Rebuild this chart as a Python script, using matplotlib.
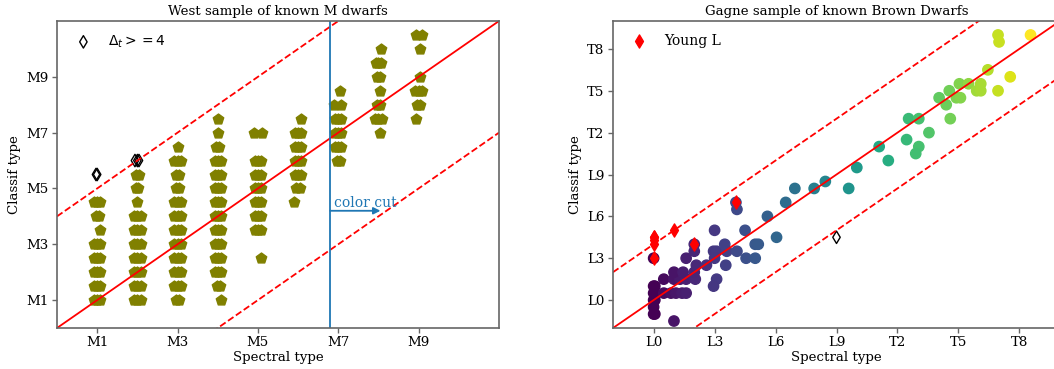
import matplotlib
matplotlib.use("Agg")
import matplotlib.pyplot as plt
import numpy as np

plt.rcParams["font.family"] = "DejaVu Serif"
plt.rcParams["font.size"] = 9.6

# ---------------- WEST SAMPLE (M dwarfs) ----------------
west_spt = [
    # M1
    0.92, 1.0, 1.08, 0.92, 1.0, 1.08, 0.92, 1.0, 1.08, 0.92, 1.0, 1.08, 0.92, 1.0, 1.08,
    1.07, 0.96, 1.04, 0.92, 1.0, 1.08,
    # M2
    1.92, 2.0, 2.08, 1.92, 2.0, 2.08, 1.92, 2.0, 2.08, 1.92, 2.0, 2.08, 1.92, 2.0, 2.08,
    1.92, 2.0, 2.08, 1.92, 2.0, 2.08, 2.0, 1.97, 2.01, 1.96, 2.04,
    # M3
    2.96, 3.04, 2.92, 3.0, 3.08, 2.92, 3.0, 3.08, 2.92, 3.0, 3.08, 2.92, 3.0, 3.08,
    2.92, 3.0, 3.08, 2.92, 3.0, 3.08, 2.92, 3.0, 3.08, 2.96, 3.04, 2.96, 3.04,
    2.92, 3.0, 3.08, 3.0,
    # M4
    4.08, 3.98, 4.06, 3.92, 4.0, 4.08, 3.92, 4.0, 4.08, 3.92, 4.0, 4.08, 3.92, 4.0, 4.08,
    3.92, 4.0, 4.08, 3.92, 4.0, 4.08, 3.92, 4.0, 4.08, 3.92, 4.0, 4.08, 3.92, 4.0, 4.08,
    3.96, 4.04, 4.0, 4.0,
    # M5
    5.07, 4.93, 5.0, 5.07, 4.92, 5.0, 5.08, 4.92, 5.0, 5.08, 4.92, 5.0, 5.08,
    4.92, 5.0, 5.08, 4.92, 5.0, 5.08, 4.9, 5.1,
    # M6
    5.9, 5.96, 6.04, 5.92, 6.0, 6.08, 5.92, 6.0, 6.08, 5.92, 6.0, 6.08, 5.92, 6.0, 6.08,
    6.07,
    # M7
    6.96, 7.04, 6.92, 7.0, 7.08, 6.92, 7.0, 7.08, 6.92, 7.0, 7.08, 6.9, 7.08, 7.04,
    # M8
    8.05, 7.92, 8.0, 8.08, 7.96, 8.04, 8.05, 7.96, 8.04, 7.93, 8.0, 8.07, 8.07,
    # M9
    8.94, 8.96, 9.04, 8.92, 9.0, 9.08, 9.03, 9.03, 8.93, 9.08,
]
west_cls = [
    # M1
    1.0, 1.0, 1.0, 1.5, 1.5, 1.5, 2.0, 2.0, 2.0, 2.5, 2.5, 2.5, 3.0, 3.0, 3.0,
    3.5, 4.0, 4.0, 4.5, 4.5, 4.5,
    # M2
    1.0, 1.0, 1.0, 1.5, 1.5, 1.5, 2.0, 2.0, 2.0, 2.5, 2.5, 2.5, 3.0, 3.0, 3.0,
    3.5, 3.5, 3.5, 4.0, 4.0, 4.0, 4.5, 5.0, 5.0, 5.5, 5.5,
    # M3
    1.0, 1.0, 1.5, 1.5, 1.5, 2.0, 2.0, 2.0, 2.5, 2.5, 2.5, 3.0, 3.0, 3.0,
    3.5, 3.5, 3.5, 4.0, 4.0, 4.0, 4.5, 4.5, 4.5, 5.0, 5.0, 5.5, 5.5,
    6.0, 6.0, 6.0, 6.5,
    # M4
    1.0, 1.5, 1.5, 2.0, 2.0, 2.0, 2.5, 2.5, 2.5, 3.0, 3.0, 3.0, 3.5, 3.5, 3.5,
    4.0, 4.0, 4.0, 4.5, 4.5, 4.5, 5.0, 5.0, 5.0, 5.5, 5.5, 5.5, 6.0, 6.0, 6.0,
    6.5, 6.5, 7.0, 7.5,
    # M5
    2.5, 3.5, 3.5, 3.5, 4.0, 4.0, 4.0, 4.5, 4.5, 4.5, 5.0, 5.0, 5.0,
    5.5, 5.5, 5.5, 6.0, 6.0, 6.0, 7.0, 7.0,
    # M6
    4.5, 5.0, 5.0, 5.5, 5.5, 5.5, 6.0, 6.0, 6.0, 6.5, 6.5, 6.5, 7.0, 7.0, 7.0,
    7.5,
    # M7
    6.0, 6.0, 6.5, 6.5, 6.5, 7.0, 7.0, 7.0, 7.5, 7.5, 7.5, 8.0, 8.0, 8.5,
    # M8
    7.0, 7.5, 7.5, 7.5, 8.0, 8.0, 8.5, 9.0, 9.0, 9.5, 9.5, 9.5, 10.0,
    # M9
    7.5, 8.0, 8.0, 8.5, 8.5, 8.5, 9.0, 10.0, 10.5, 10.5,
]
# large-delta outliers
west_out_spt = [0.97, 1.0, 1.94, 2.0, 2.04]
west_out_cls = [5.5, 5.5, 6.0, 6.0, 6.0]

m_ticks = [1, 3, 5, 7, 9]
m_labels = ["M1", "M3", "M5", "M7", "M9"]
color_cut = 6.8

# ---------------- GAGNE SAMPLE (brown dwarfs) ----------------
gagne_spt = [
    0.0, 0.06, 0.0, 0.06, 0.0, 0.06, 0.0, 0.0, 0.06, 0.0,
    0.5, 0.85, 1.1, 1.4, 1.6,
    0.5, 1.0, 1.3, 1.6, 2.05,
    1.0, 1.45, 2.0, 2.1, 2.6, 1.6, 2.0, 2.0, 1.0,
    3.0, 2.95, 3.1, 3.0, 3.1, 2.95, 3.5, 3.6, 3.55, 4.1, 4.1, 4.05,
    4.5, 4.55, 5.0, 5.0, 5.15, 5.6, 6.05, 6.5, 6.95, 7.9, 8.45, 9.6, 10.0,
    11.1, 11.55, 12.45, 12.55, 13.05, 13.05, 12.9, 13.55, 14.6, 14.05, 14.4,
    14.55, 14.9, 15.1, 15.05, 15.5, 15.9, 16.1, 16.1, 16.45, 16.95, 16.95,
    17.0, 17.55, 18.55,
]
gagne_cls = [
    1.0, 1.0, 0.5, 0.5, 0.0, 0.0, -0.5, -1.0, -1.0, 3.0,
    0.5, 0.5, 0.5, 0.5, 0.5,
    1.5, 1.5, 1.5, 1.5, 1.5,
    2.0, 2.0, 2.0, 2.5, 2.5, 3.0, 3.5, 4.0, -1.5,
    5.0, 3.5, 3.5, 3.0, 1.5, 1.0, 4.0, 3.5, 2.5, 3.5, 6.5, 7.0,
    5.0, 3.0, 3.0, 4.0, 4.0, 6.0, 4.5, 7.0, 8.0, 8.0, 8.5, 8.0, 9.5,
    11.0, 10.0, 11.5, 13.0, 13.0, 11.0, 10.5, 12.0, 13.0, 14.5, 14.0,
    15.0, 14.5, 14.5, 15.5, 15.5, 15.0, 15.0, 15.5, 16.5, 15.0, 19.0,
    18.5, 16.0, 19.0,
]
young_spt = [0.0, 0.03, 0.0, 0.0, 0.0, 1.0, 2.0, 4.05]
young_cls = [4.5, 4.5, 4.3, 4.0, 3.0, 5.0, 4.0, 7.0]
gagne_out_spt = [9.0]
gagne_out_cls = [4.5]

lt_ticks = [0, 3, 6, 9, 12, 15, 18]
lt_labels = ["L0", "L3", "L6", "L9", "T2", "T5", "T8"]


def style_axes(ax):
    for s in ax.spines.values():
        s.set_color("#666666")
        s.set_linewidth(1.2)
    ax.tick_params(direction="out", length=3.5, width=1, color="#666666",
                   pad=2.5, top=False, right=False)


fig = plt.figure(figsize=(10.54, 3.69), dpi=100)
W, H = 1054.0, 369.0

# ---------------- LEFT PANEL ----------------
ax1 = fig.add_axes([57 / W, 41 / H, 442 / W, 307 / H])
ax1.scatter(west_spt, west_cls, marker="p", s=62, color="olive")
ax1.scatter(west_out_spt, west_out_cls, marker="d", s=40, facecolors="none",
            edgecolors="k", linewidths=1.0, label=r"$\Delta_t >= 4$")
line = np.array([0, 11])
ax1.plot(line, line, "r-", lw=1.3)
ax1.plot(line, line + 4, "r--", lw=1.3)
ax1.plot(line, line - 4, "r--", lw=1.3)
ax1.axvline(color_cut, color="tab:blue", lw=1.3)
ax1.annotate("", xy=(8.05, 4.2), xytext=(color_cut, 4.2),
             arrowprops=dict(arrowstyle="-|>", color="tab:blue", lw=1.3,
                             shrinkA=0, shrinkB=0, mutation_scale=10))
ax1.text(6.9, 4.35, "color cut", color="tab:blue", fontsize=10)
ax1.set_xlim(0, 11)
ax1.set_ylim(0, 11)
ax1.set_xticks(m_ticks)
ax1.set_xticklabels(m_labels)
ax1.set_yticks(m_ticks)
ax1.set_yticklabels(m_labels)
ax1.set_xlabel("Spectral type", labelpad=1)
ax1.set_ylabel("Classif type", labelpad=4)
ax1.set_title("West sample of known M dwarfs", fontsize=9.6, pad=4)
ax1.legend(loc="upper left", frameon=False, scatterpoints=1, fontsize=10)
style_axes(ax1)

# ---------------- RIGHT PANEL ----------------
ax2 = fig.add_axes([613 / W, 41 / H, 447 / W, 307 / H])
ax2.scatter(gagne_spt, gagne_cls, c=gagne_spt, cmap="viridis", s=55)
ax2.scatter(young_spt, young_cls, marker="d", s=45, color="red",
            label="Young L")
ax2.scatter(gagne_out_spt, gagne_out_cls, marker="d", s=40,
            facecolors="none", edgecolors="k", linewidths=1.0)
line2 = np.array([-2, 20])
ax2.plot(line2, line2, "r-", lw=1.3)
ax2.plot(line2, line2 + 4, "r--", lw=1.3)
ax2.plot(line2, line2 - 4, "r--", lw=1.3)
ax2.set_xlim(-2, 20)
ax2.set_ylim(-2, 20)
ax2.set_xticks(lt_ticks)
ax2.set_xticklabels(lt_labels)
ax2.set_yticks(lt_ticks)
ax2.set_yticklabels(lt_labels)
ax2.set_xlabel("Spectral type", labelpad=1)
ax2.set_ylabel("Classif type", labelpad=4)
ax2.set_title("Gagne sample of known Brown Dwarfs", fontsize=9.6, pad=4)
ax2.legend(loc="upper left", frameon=False, scatterpoints=1, fontsize=10)
style_axes(ax2)

fig.savefig("out.png", dpi=100)
